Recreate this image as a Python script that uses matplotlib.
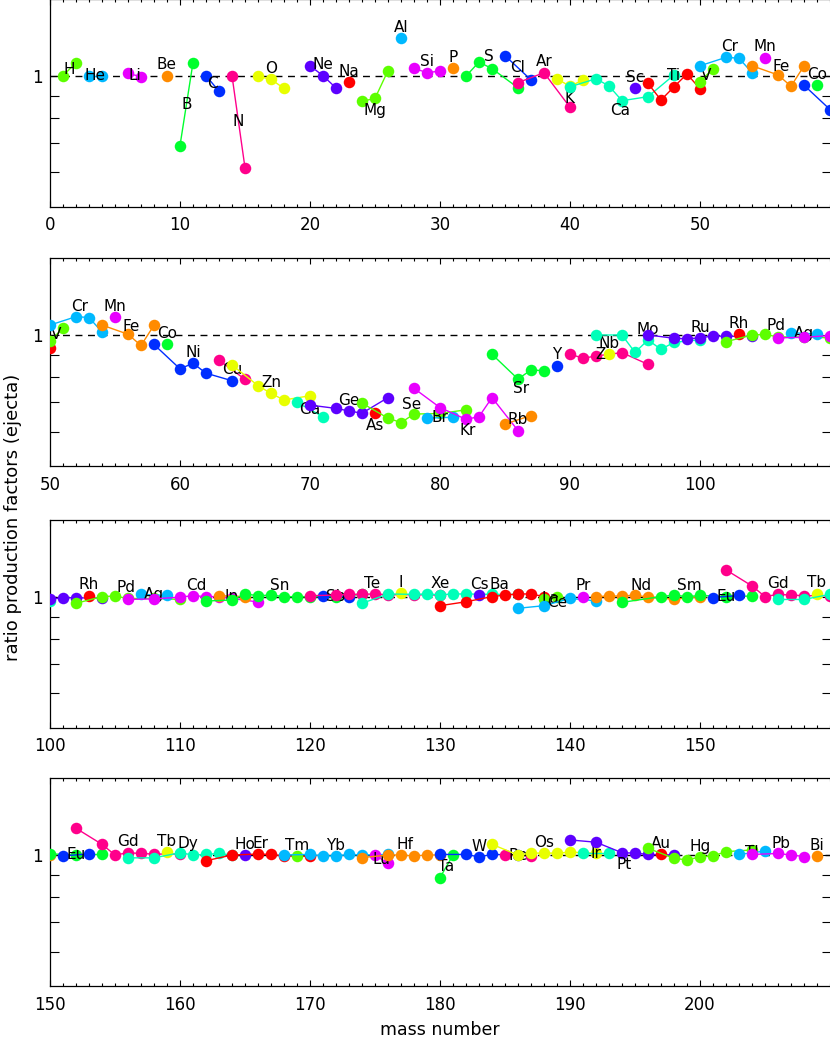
import colorsys
import numpy as np
import matplotlib
matplotlib.use("Agg")
import matplotlib.pyplot as plt
from matplotlib.ticker import FixedLocator, NullFormatter, MultipleLocator

# elements in Z order (Tc and Pm are missing, F has no isotope in range)
elements = ['H', 'He', 'Li', 'Be', 'B', 'C', 'N', 'O', 'F', 'Ne', 'Na', 'Mg', 'Al', 'Si',
            'P', 'S', 'Cl', 'Ar', 'K', 'Ca', 'Sc', 'Ti', 'V', 'Cr', 'Mn', 'Fe', 'Co', 'Ni',
            'Cu', 'Zn', 'Ga', 'Ge', 'As', 'Se', 'Br', 'Kr', 'Rb', 'Sr', 'Y', 'Zr', 'Nb', 'Mo',
            'Ru', 'Rh', 'Pd', 'Ag', 'Cd', 'In', 'Sn', 'Sb', 'Te', 'I', 'Xe', 'Cs', 'Ba', 'La',
            'Ce', 'Pr', 'Nd', 'Sm', 'Eu', 'Gd', 'Tb', 'Dy', 'Ho', 'Er', 'Tm', 'Yb', 'Lu', 'Hf',
            'Ta', 'W', 'Re', 'Os', 'Ir', 'Pt', 'Au', 'Hg', 'Tl', 'Pb', 'Bi']

# number of isotopes of each element
n_iso = [2, 2, 2, 1, 2, 2, 2, 3, 0, 3, 1, 3, 1, 3,
         1, 4, 2, 3, 3, 6, 1, 5, 2, 4, 1, 4, 1, 5,
         2, 5, 2, 5, 1, 6, 2, 6, 2, 4, 1, 5, 1, 7,
         7, 1, 6, 2, 8, 2, 10, 2, 8, 1, 9, 1, 7, 2,
         4, 1, 7, 7, 2, 7, 1, 7, 1, 6, 1, 7, 2, 6,
         2, 5, 2, 7, 2, 6, 1, 7, 2, 4, 1]

iso_mass = [
    1, 2,  3, 4,  6, 7,  9,  10, 11,  12, 13,  14, 15,  16, 17, 18,
    20, 21, 22,  23,  24, 25, 26,  27,  28, 29, 30,  31,  32, 33, 34, 36,
    35, 37,  36, 38, 40,  39, 40, 41,  40, 42, 43, 44, 46, 48,  45,
    46, 47, 48, 49, 50,  50, 51,  50, 52, 53, 54,  55,  54, 56, 57, 58,  59,
    58, 60, 61, 62, 64,  63, 65,  64, 66, 67, 68, 70,  69, 71,
    70, 72, 73, 74, 76,  75,  74, 76, 77, 78, 80, 82,  79, 81,
    78, 80, 82, 83, 84, 86,  85, 87,  84, 86, 87, 88,  89,
    90, 91, 92, 94, 96,  93,  92, 94, 95, 96, 97, 98, 100,
    96, 98, 99, 100, 101, 102, 104,  103,  102, 104, 105, 106, 108, 110,  107, 109,
    106, 108, 110, 111, 112, 113, 114, 116,  113, 115,
    112, 114, 115, 116, 117, 118, 119, 120, 122, 124,  121, 123,
    120, 122, 123, 124, 125, 126, 128, 130,  127,
    124, 126, 128, 129, 130, 131, 132, 134, 136,  133,
    130, 132, 134, 135, 136, 137, 138,  138, 139,  136, 138, 140, 142,  141,
    142, 143, 144, 145, 146, 148, 150,  144, 147, 148, 149, 150, 152, 154,  151, 153,
    152, 154, 155, 156, 157, 158, 160,  159,  156, 158, 160, 161, 162, 163, 164,  165,
    162, 164, 166, 167, 168, 170,  169,  168, 170, 171, 172, 173, 174, 176,  175, 176,
    174, 176, 177, 178, 179, 180,  180, 181,  180, 182, 183, 184, 186,  185, 187,
    184, 186, 187, 188, 189, 190, 192,  191, 193,  190, 192, 194, 195, 196, 198,  197,
    196, 198, 199, 200, 201, 202, 204,  203, 205,  204, 206, 207, 208,  209,
]

iso_ratio = [
    1.000, 1.072,  1.000, 1.000,  1.012, 0.995,  1.000,  0.691, 1.072,  1.000, 0.921,
    1.000, 0.614,  0.996, 0.981, 0.935,
    1.054, 1.000, 0.937,  0.965,  0.873, 0.887, 1.027,  1.219,  1.040, 1.016, 1.025,  1.040,
    0.998, 1.075, 1.038, 0.938,
    1.112, 0.978,  0.964, 1.016, 0.846,  0.984, 0.945, 0.978,
    0.943, 0.984, 0.947, 0.876, 0.895, 1.004,  0.935,
    0.960, 0.879, 0.943, 1.009, 0.933,  0.969, 1.037,  1.054, 1.102, 1.097, 1.016,  1.100,
    1.054, 1.004, 0.946, 1.053,  0.952,
    0.951, 0.836, 0.861, 0.817, 0.785,  0.875, 0.791,  0.853, 0.765, 0.734, 0.709, 0.725,
    0.700, 0.649,
    0.690, 0.678, 0.669, 0.661, 0.718,  0.661,  0.697, 0.644, 0.629, 0.658, 0.660, 0.673,
    0.644, 0.647,
    0.754, 0.681, 0.640, 0.649, 0.718, 0.603,  0.624, 0.653,  0.903, 0.792, 0.831, 0.828,
    0.850,
    0.904, 0.884, 0.895, 0.911, 0.856,  0.903,  1.000, 1.000, 0.912, 0.974, 0.927, 0.962, 0.975,
    1.000, 0.983, 0.980, 0.985, 0.995, 0.993, 0.993,  1.005,
    0.965, 1.000, 1.003, 0.990, 0.990, 0.985,  1.012, 1.006,
    0.985, 0.988, 0.997, 1.005, 1.000, 1.000, 0.990, 0.972,  1.005, 1.000,
    0.977, 0.982, 1.014, 1.005, 1.008, 1.000, 1.000, 1.000, 1.000, 1.012,  1.005, 1.000,
    1.005, 1.008, 1.012, 1.012, 1.014, 1.010, 1.010, 1.008,  1.017,
    0.965, 1.014, 1.012, 1.014, 1.010, 1.014, 1.014, 1.012, 1.012,  1.008,
    0.953, 0.973, 1.000, 1.008, 1.014, 1.014, 1.000,  0.985, 0.997,
    0.940, 0.953, 0.990, 0.978,  1.000,
    1.000, 1.003, 1.003, 1.008, 0.997, 0.986, 1.000,
    0.970, 1.000, 1.008, 1.000, 1.006, 1.000, 1.003,  0.995, 1.006,
    1.152, 1.058, 1.000, 1.012, 1.008, 1.005, 1.005,  1.015,
    0.985, 0.985, 1.012, 1.000, 1.003, 1.008, 1.000,  1.000,
    0.970, 1.000, 1.005, 1.003, 0.995, 0.993,  0.995,
    1.000, 1.003, 0.995, 0.995, 1.003, 1.000, 1.003,  1.000, 0.957,
    0.986, 1.000, 1.000, 0.995, 1.000, 1.000,  0.887, 1.000,
    1.003, 1.003, 0.990, 1.003, 1.000,  1.000, 0.995,
    1.058, 1.000, 1.010, 1.010, 1.010, 1.015, 1.010,  1.010, 1.010,
    1.083, 1.070, 1.012, 1.010, 1.003, 1.000,  1.003,
    1.036, 0.983, 0.974, 0.990, 0.995, 1.018, 1.027,  1.003, 1.021,
    1.003, 1.008, 1.000, 0.992,  0.995,
]

panel_start = [0, 50, 100, 150]

# label placement (besides the default "above the curve")
label_below = {'Mg', 'K', 'Ca', 'As', 'Kr', 'Sr', 'Pt'}
label_on = {'Zr', 'Ce'}

assert len(iso_mass) == len(iso_ratio) == sum(n_iso)

W, H = 830, 1037
fig = plt.figure(figsize=(W / 100, H / 100), dpi=100)
plt.rcParams['font.family'] = 'DejaVu Sans'

ax_left, ax_w = 50, 781
ax_h = 435 * np.log10(3.0)
panel_top = [-0.9, 258.4, 520.0, 778.4]

# split flat lists into elements
starts = np.concatenate([[0], np.cumsum(n_iso)])
groups = []
for i, sym in enumerate(elements):
    a = np.array(iso_mass[starts[i]:starts[i + 1]], float)
    r = np.array(iso_ratio[starts[i]:starts[i + 1]], float)
    hue = ((i + 1) * 3 / 11.0) % 1.0
    col = colorsys.hsv_to_rgb(hue, 1, 1)
    groups.append((sym, a, r, col))

for p, lo in enumerate(panel_start):
    ax = fig.add_axes([ax_left / W, 1 - (panel_top[p] + ax_h) / H, ax_w / W, ax_h / H])
    ax.set_yscale('log')
    ax.set_ylim(0.5, 1.5)
    ax.set_xlim(lo, lo + ax_w / 13.0)
    ax.axhline(1.0, color='k', lw=1, ls=(0, (5, 4)), zorder=1)

    for sym, a, r, col in groups:
        if len(a) == 0:
            continue
        ax.plot(a, r, '-o', color=col, lw=1, ms=8.3, mew=0, zorder=3)
        xm = a.mean()
        if not (lo < xm < lo + 60):
            continue
        ym = np.exp(np.interp(xm, a, np.log(r)))
        if len(a) == 2 or sym in label_on:
            dy = 0
        elif sym in label_below:
            dy = -8.5
        else:
            dy = 7.8
        ax.annotate(sym, (xm, ym), xytext=(0, dy), textcoords='offset points',
                    ha='center', va='center', fontsize=11, zorder=3, annotation_clip=False)

    ax.yaxis.set_major_locator(FixedLocator([1.0]))
    ax.yaxis.set_major_formatter(plt.FixedFormatter(['1']))
    ax.yaxis.set_minor_locator(FixedLocator([0.6, 0.7, 0.8, 0.9]))
    ax.yaxis.set_minor_formatter(NullFormatter())
    ax.xaxis.set_major_locator(FixedLocator(list(range(lo, lo + 51, 10))))
    ax.xaxis.set_minor_locator(MultipleLocator(1))
    ax.tick_params(axis='x', which='major', direction='in', length=4.3, width=0.8,
                   top=True, labelsize=12, pad=7)
    ax.tick_params(axis='x', which='minor', direction='in', length=2.2, width=0.8, top=True)
    ax.tick_params(axis='y', which='both', direction='in', length=6.5, width=0.8,
                   right=True, labelsize=12, pad=5)
    for s in ax.spines.values():
        s.set_linewidth(0.9)

fig.text(13 / W, 1 - 517 / H, 'ratio production factors (ejecta)', rotation=90,
         ha='center', va='center', fontsize=13)
fig.text(440 / W, 1 - 1030 / H, 'mass number', ha='center', va='center', fontsize=12.5)

fig.savefig('out.png', dpi=100)
